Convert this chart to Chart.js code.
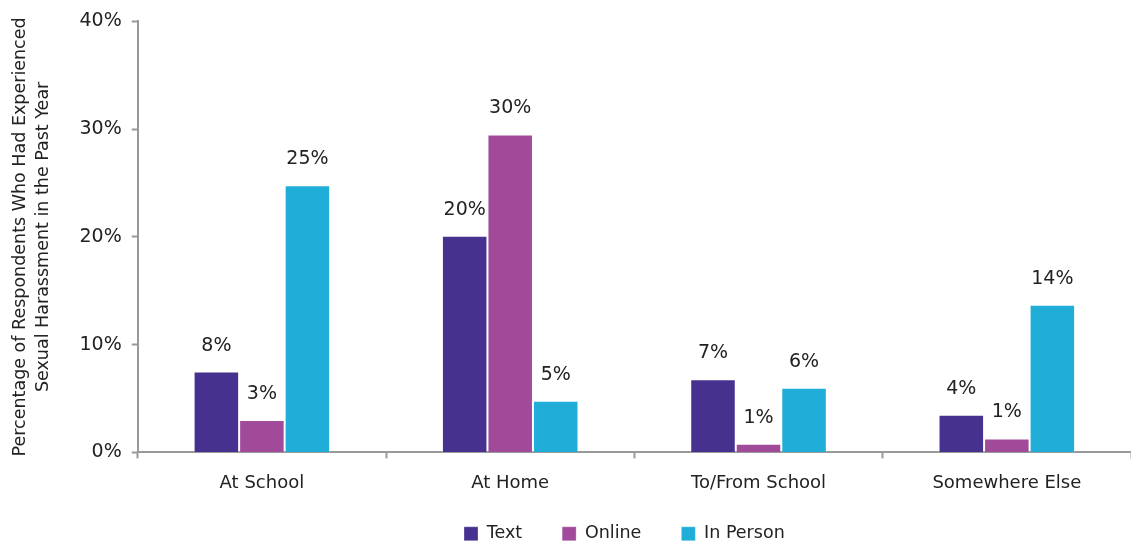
<!DOCTYPE html>
<html>
<head>
<meta charset="utf-8">
<script src="https://cdn.jsdelivr.net/npm/chart.js@4"></script>
<style>
  html, body { margin: 0; padding: 0; background: #fff; }
  #wrap { width: 1131px; height: 541px; }
</style>
</head>
<body>
<div id="wrap"><canvas id="harassChart"></canvas></div>
<script>
// values
const categories = ['At School', 'At Home', 'To/From School', 'Somewhere Else'];
const textValues = [7.5, 20.1, 6.8, 3.5];
const onlineValues = [3.0, 29.5, 0.8, 1.3];
const inPersonValues = [24.8, 4.8, 6.0, 13.7];
const yTicks = [0, 10, 20, 30, 40];

const FONT = "'DejaVu Sans', sans-serif";

// draws the % labels on top of each bar
const barLabels = {
  id: 'barLabels',
  afterDatasetsDraw(chart) {
    const ctx = chart.ctx;
    ctx.save();
    ctx.font = '19px ' + FONT;
    ctx.fillStyle = '#222';
    ctx.textAlign = 'center';
    ctx.textBaseline = 'middle';
    chart.data.datasets.forEach((ds, i) => {
      chart.getDatasetMeta(i).data.forEach((bar, j) => {
        ctx.fillText(Math.round(ds.data[j]) + '%', bar.x, bar.y - 26);
      });
    });
    ctx.restore();
  }
};

// legend: keep the wide gaps between items but make the box shorter
const legendFit = {
  id: 'legendFit',
  beforeLayout(chart) {
    const lg = chart.legend;
    if (!lg || lg._patched) return;
    const fit = lg.fit.bind(lg);
    const draw = lg.draw.bind(lg);
    lg.fit = function () { fit(); this.height = 33; };
    lg.draw = function (area) {
      const saved = [this.top, this.left, this.right];
      this.top -= 23;
      this.left -= 10;
      this.right -= 10;
      draw(area);
      [this.top, this.left, this.right] = saved;
    };
    lg._patched = true;
  }
};

new Chart(document.getElementById('harassChart'), {
  type: 'bar',
  data: {
    labels: categories,
    datasets: [
      { label: 'Text', data: textValues, backgroundColor: '#46318F' },
      { label: 'Online', data: onlineValues, backgroundColor: '#A14A9A' },
      { label: 'In Person', data: inPersonValues, backgroundColor: '#20AED8' }
    ]
  },
  options: {
    responsive: true,
    maintainAspectRatio: false,
    animation: false,
    layout: { padding: { top: 13, right: 0, left: 9, bottom: 0 } },
    datasets: {
      bar: {
        categoryPercentage: 0.55,
        barPercentage: 1.0,
        borderWidth: 1,
        borderColor: 'rgba(255,255,255,0.3)'
      }
    },
    plugins: {
      legend: {
        position: 'bottom',
        fullSize: false,
        labels: {
          color: '#222',
          font: { family: FONT, size: 17.5 },
          boxWidth: 14,
          boxHeight: 14,
          padding: 40
        }
      },
      tooltip: { enabled: false }
    },
    scales: {
      y: {
        min: 0,
        max: 40,
        afterBuildTicks: axis => { axis.ticks = yTicks.map(v => ({ value: v })); },
        grid: { drawOnChartArea: false, color: '#999', tickLength: 6, tickWidth: 2 },
        border: { color: '#999', width: 2 },
        ticks: {
          color: '#222',
          padding: 10,
          font: { family: FONT, size: 19 },
          callback: v => v + '%'
        },
        title: {
          display: true,
          text: ['Percentage of Respondents Who Had Experienced', 'Sexual Harassment in the Past Year'],
          color: '#222',
          font: { family: FONT, size: 17.5, lineHeight: 1.3 },
          padding: { top: 0, bottom: 15 }
        }
      },
      x: {
        grid: { drawOnChartArea: false, offset: true, color: '#999', tickLength: 6, tickWidth: 2 },
        border: { color: '#999', width: 2 },
        ticks: {
          color: '#222',
          padding: 14,
          font: { family: FONT, size: 18 }
        }
      }
    }
  },
  plugins: [barLabels, legendFit]
});
</script>
</body>
</html>
